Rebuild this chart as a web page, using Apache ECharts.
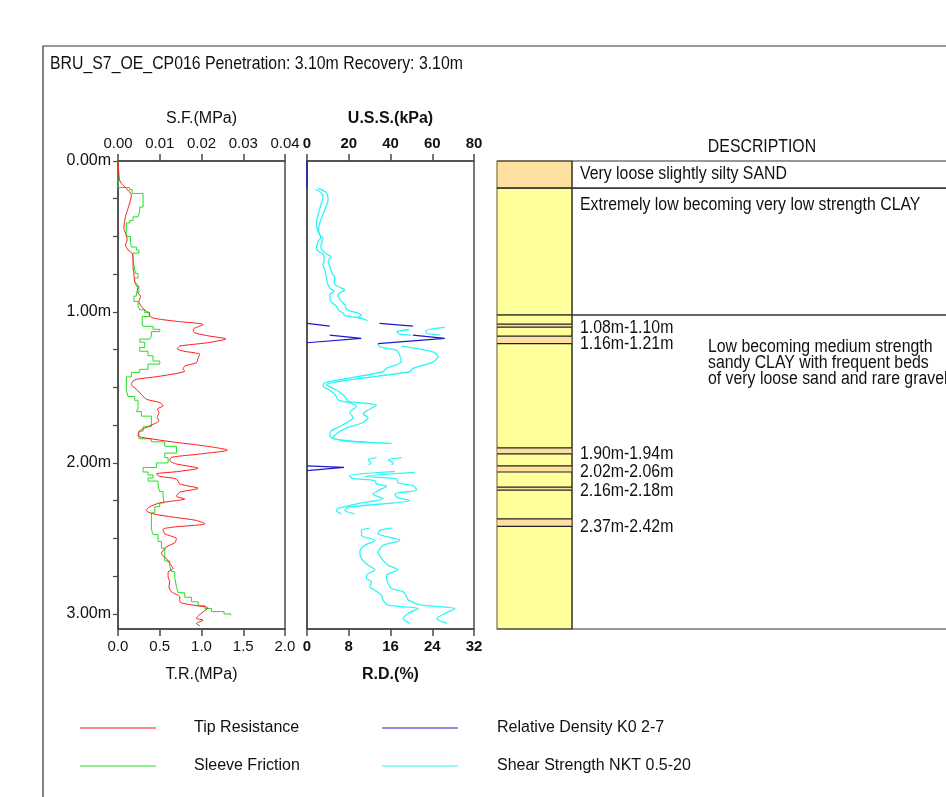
<!DOCTYPE html>
<html><head><meta charset="utf-8">
<script src="https://cdn.jsdelivr.net/npm/echarts@6/dist/echarts.min.js"></script>
<style>html,body{margin:0;padding:0;background:#fff}#c{width:946px;height:797px}</style>
</head><body><div id="c"></div>
<script>
// ---------- DATA ----------
const titleText = 'BRU_S7_OE_CP016 Penetration: 3.10m Recovery: 3.10m';
const descTitle = 'DESCRIPTION';
const depthMax = 3.1;
// Tip resistance [MPa, depth m]
const tipResistance = [[0,0],[0.01,0.08],[0.02,0.127],[0.04,0.149],[0.10,0.182],[0.16,0.226],[0.15,0.259],[0.12,0.314],[0.09,0.369],[0.07,0.446],[0.09,0.479],[0.11,0.523],[0.09,0.556],[0.12,0.589],[0.17,0.611],[0.18,0.655],[0.18,0.699],[0.19,0.743],[0.20,0.798],[0.24,0.831],[0.23,0.864],[0.27,0.897],[0.25,0.930],[0.28,0.963],[0.34,0.996],[0.38,1.007],[0.37,1.018],[0.42,1.040],[0.70,1.062],[1.02,1.084],[0.90,1.116],[0.92,1.138],[1.10,1.160],[1.29,1.178],[1.07,1.204],[0.74,1.226],[0.71,1.244],[0.78,1.259],[0.98,1.281],[0.96,1.303],[0.94,1.336],[0.80,1.358],[0.78,1.380],[0.80,1.391],[0.52,1.424],[0.22,1.446],[0.18,1.457],[0.16,1.480],[0.22,1.512],[0.28,1.545],[0.34,1.578],[0.50,1.600],[0.54,1.622],[0.47,1.644],[0.49,1.666],[0.47,1.699],[0.49,1.721],[0.38,1.754],[0.26,1.787],[0.24,1.820],[0.42,1.842],[0.70,1.864],[1.02,1.886],[1.31,1.915],[0.98,1.941],[0.64,1.963],[0.62,1.985],[0.70,2.007],[0.96,2.035],[0.70,2.058],[0.46,2.073],[0.50,2.089],[0.70,2.106],[0.74,2.139],[0.96,2.168],[0.74,2.194],[0.70,2.221],[0.80,2.238],[0.50,2.265],[0.37,2.293],[0.34,2.315],[0.42,2.337],[0.66,2.359],[0.94,2.381],[1.04,2.403],[0.66,2.425],[0.54,2.440],[0.56,2.469],[0.70,2.502],[0.68,2.528],[0.58,2.557],[0.52,2.601],[0.58,2.634],[0.62,2.667],[0.66,2.700],[0.60,2.722],[0.60,2.755],[0.62,2.788],[0.61,2.821],[0.64,2.854],[0.74,2.887],[0.74,2.920],[0.90,2.942],[1.08,2.960],[1.02,2.986],[0.96,3.013],[0.94,3.030],[1.02,3.041],[0.94,3.063],[0.98,3.079]];
// Sleeve friction [MPa, depth from which the value holds]
const sleeveFriction = [[0,0],[0.0028,0.176],[0.0034,0.19],[0.0060,0.215],[0.0052,0.305],[0.0048,0.33],[0.0036,0.37],[0.0028,0.395],[0.0020,0.41],[0.0022,0.48],[0.0030,0.50],[0.0032,0.54],[0.0044,0.57],[0.0050,0.59],[0.0036,0.61],[0.0040,0.655],[0.0042,0.72],[0.0048,0.745],[0.0040,0.775],[0.0044,0.80],[0.0050,0.83],[0.0044,0.87],[0.0038,0.895],[0.0048,0.93],[0.0052,0.96],[0.0064,0.985],[0.0076,1.005],[0.0058,1.03],[0.0060,1.08],[0.0084,1.095],[0.0100,1.115],[0.0080,1.13],[0.0076,1.16],[0.0052,1.18],[0.0064,1.20],[0.0052,1.235],[0.0072,1.26],[0.0084,1.29],[0.0100,1.325],[0.0072,1.345],[0.0052,1.38],[0.0032,1.40],[0.0020,1.43],[0.0024,1.52],[0.0040,1.56],[0.0048,1.585],[0.0044,1.64],[0.0056,1.66],[0.0080,1.69],[0.0060,1.76],[0.0050,1.79],[0.0080,1.84],[0.0112,1.86],[0.0140,1.89],[0.0112,1.935],[0.0120,1.965],[0.0092,2.00],[0.0060,2.03],[0.0072,2.06],[0.0084,2.08],[0.0072,2.10],[0.0096,2.12],[0.0100,2.155],[0.0108,2.19],[0.0110,2.215],[0.0100,2.265],[0.0088,2.29],[0.0080,2.33],[0.0084,2.44],[0.0096,2.475],[0.0104,2.52],[0.0112,2.565],[0.0124,2.65],[0.0128,2.685],[0.0136,2.72],[0.0140,2.76],[0.0144,2.82],[0.0160,2.86],[0.0176,2.89],[0.0192,2.92],[0.0208,2.945],[0.0224,2.965],[0.0254,2.985],[0.0270,3.00],[0.0270,3.01]];
// Relative density K0 2 / K0 7 [%, depth], segments
const relDensityLow = [
  [[0,0],[0,0.176]],
  [[0,1.076],[4.35,1.094]],
  [[4.35,1.153],[10.4,1.175],[0,1.204]],
  [[0,2.020],[7.1,2.030],[0,2.051]]
];
const relDensityHigh = [
  [[13.9,1.076],[20.3,1.094]],
  [[20.3,1.153],[26.4,1.175],[13.6,1.210]]
];
// Shear strength NKT bounds [kPa, depth], segments
const shearLow = [
  [[4.0,0.187],[6.9,0.211],[7.7,0.237],[6.6,0.292],[5.3,0.358],[4.5,0.402],[5.0,0.457],[6.6,0.506],[5.3,0.534],[4.5,0.578],[5.6,0.600],[7.7,0.615],[8.2,0.655],[7.7,0.688],[8.8,0.732],[9.3,0.776],[9.8,0.809],[10.9,0.842],[13.0,0.864],[10.9,0.886],[11.4,0.930],[14.1,0.963],[14.9,0.985],[17.3,1.007],[18.1,1.025],[23.7,1.036],[26.7,1.045]],
  [[49,1.116],[43,1.132],[44.5,1.147],[50,1.153]],
  [[34.0,1.213],[34.8,1.231],[42.8,1.253],[44.4,1.286],[45.2,1.330],[38.0,1.374],[36.4,1.396],[8.5,1.469],[7.7,1.490],[10.5,1.515],[12.5,1.535],[14.1,1.560],[14.9,1.583],[21.3,1.605],[23.7,1.623],[22.1,1.644],[20.5,1.666],[22.1,1.700],[20.5,1.721],[16.5,1.754],[11.7,1.787],[10.9,1.820],[13.3,1.842],[29.3,1.864]],
  [[33.3,1.965],[29.3,1.979],[30.6,2.001],[29.6,2.014]],
  [[42.1,2.058],[20.5,2.084],[21.6,2.102],[32.5,2.117],[33.3,2.139],[38.1,2.155],[34.1,2.183],[31.7,2.205],[36.6,2.238],[26.1,2.264],[14.9,2.300],[14.1,2.315],[16.5,2.337]],
  [[30.1,2.432],[26.1,2.447],[26.1,2.480],[32.5,2.513],[27.7,2.546],[25.3,2.590],[26.1,2.634],[29.3,2.678],[32.5,2.707],[28.5,2.744],[28.5,2.766],[30.9,2.788],[30.1,2.821],[32.5,2.843],[35.7,2.876],[36.5,2.909],[38.9,2.942],[53.3,2.964],[48.5,2.997],[46.1,3.030],[49.3,3.063]]
];
const shearHigh = [
  [[5.3,0.182],[9.3,0.211],[10.1,0.259],[8.8,0.314],[6.9,0.380],[5.6,0.446],[6.1,0.490],[7.7,0.512],[6.6,0.567],[7.2,0.589],[10.1,0.622],[11.4,0.633],[10.1,0.666],[10.9,0.699],[12.0,0.743],[13.3,0.776],[13.0,0.809],[16.5,0.842],[18.1,0.853],[14.9,0.886],[15.7,0.919],[18.1,0.952],[18.9,0.980],[21.3,0.996],[24.5,1.007],[26.1,1.022],[24.5,1.033],[27.0,1.046],[29.0,1.057]],
  [[66,1.102],[57,1.124],[57,1.140],[63.6,1.153]],
  [[45.2,1.226],[60.4,1.264],[62.8,1.297],[60.4,1.330],[50.8,1.374],[49.2,1.396],[9.3,1.484],[14.1,1.517],[18.1,1.560],[19.7,1.590],[33.3,1.618],[28.5,1.655],[26.9,1.677],[29.3,1.700],[26.9,1.732],[19.7,1.765],[14.9,1.798],[12.5,1.831],[17.3,1.853],[40.5,1.871]],
  [[45.3,1.965],[38.9,1.979],[41.3,2.001],[40.5,2.014]],
  [[51.7,2.062],[27.7,2.089],[42.9,2.106],[43.7,2.133],[50.9,2.150],[52.5,2.179],[42.1,2.205],[42.9,2.227],[49.3,2.249],[19.7,2.293],[18.1,2.315],[22.9,2.337]],
  [[40.5,2.432],[34.9,2.447],[34.1,2.469],[44.5,2.513],[36.5,2.546],[34.1,2.590],[35.7,2.634],[38.9,2.678],[43.7,2.707],[38.1,2.744],[38.1,2.766],[38.9,2.799],[40.5,2.832],[46.1,2.854],[47.7,2.887],[48.5,2.909],[54.9,2.942],[70.9,2.964],[66.1,2.997],[62.1,3.030],[67.0,3.063]]
];
// Lithology
const unitTop  = [0, 0.18, 1.02];
const unitBase = [0.18, 1.02, 3.10];
const unitSoil = ['sand', 'clay', 'clay'];
const unitText = [
  'Very loose slightly silty SAND',
  'Extremely low becoming very low strength CLAY',
  'Low becoming medium strength\nsandy CLAY with frequent beds\nof very loose sand and rare gravel'
];
const bedTop  = [1.08, 1.16, 1.90, 2.02, 2.16, 2.37];
const bedBase = [1.10, 1.21, 1.94, 2.06, 2.18, 2.42];
// Axis ticks [min, max, interval]
const sfTicks = [0, 0.04, 0.01];
const trTicks = [0, 2.0, 0.5];
const ussTicks = [0, 80, 20];
const rdTicks = [0, 32, 8];
const legendLeft = ['Tip Resistance', 'Sleeve Friction'];
const legendRight = ['Relative Density K0 2-7', 'Shear Strength NKT 0.5-20'];

// ---------- STYLE ----------
const FONT = "'Liberation Sans', Arial, sans-serif";
const AX = '#4a4a4a';
const SAND = '#fde0a0', CLAY = '#ffff9c';
const NARROW_SX = 0.88;
const COL_W = 75, BOX_W = 449, TEXT_X = [8, 8, 136], TEXT_DY = [5, 9, 24];

function joinSegs(segs) {
  const out = [];
  segs.forEach((s, i) => { if (i) out.push(['-', '-']); s.forEach(p => out.push(p)); });
  return out;
}
function valueAxis(t, extra) {
  return Object.assign({
    type: 'value', min: t[0], max: t[1], interval: t[2],
    splitLine: { show: false },
    axisLine: { show: true, onZero: false, lineStyle: { color: AX, width: 1.5 } },
    axisTick: { show: true, length: 7, lineStyle: { color: AX, width: 1.5 } },
    nameLocation: 'middle',
    nameTextStyle: { fontFamily: FONT, fontSize: 16, color: '#111' }
  }, extra);
}
const labelStyle = (dec, bold, margin) => ({
  fontFamily: FONT, fontSize: 15, color: '#111', fontWeight: bold ? 'bold' : 'normal', margin: margin,
  formatter: v => v.toFixed(dec)
});
const depthAxis = (gi, show) => ({
  type: 'value', gridIndex: gi, inverse: true, min: 0, max: depthMax, interval: 0.25,
  splitLine: { show: false },
  axisLine: { show: true, lineStyle: { color: AX, width: 1.5 } },
  axisTick: { show: show, length: 5, lineStyle: { color: AX, width: 1.2 } },
  axisLabel: {
    show: show, fontFamily: FONT, fontSize: 16, color: '#111', margin: 7, showMaxLabel: false,
    formatter: v => (Math.abs(v - Math.round(v)) < 1e-9 ? v.toFixed(2) + 'm' : '')
  }
});
const narrowText = (text, x, y, align, vAlign, extra) => ({
  type: 'text', x: x, y: y, scaleX: NARROW_SX,
  style: Object.assign({ text: text, fontFamily: FONT, fontSize: 18, fill: '#111', align: align, verticalAlign: vAlign }, extra || {})
});

function renderUnit(params, api) {
  const i = api.value(2);
  const a = api.coord([0, api.value(0)]), b = api.coord([COL_W, api.value(1)]), r = api.coord([BOX_W, api.value(1)]);
  return {
    type: 'group', children: [
      { type: 'rect', shape: { x: a[0], y: a[1], width: b[0] - a[0], height: b[1] - a[1] }, style: { fill: unitSoil[i] === 'sand' ? SAND : CLAY, stroke: '#7f7444', lineWidth: 1.2 } },
      { type: 'line', shape: { x1: a[0], y1: a[1], x2: r[0], y2: a[1] }, style: { stroke: '#333', lineWidth: 1.2 } },
      { type: 'line', shape: { x1: a[0], y1: b[1], x2: r[0], y2: b[1] }, style: { stroke: '#333', lineWidth: 1.2 } },
      { type: 'line', shape: { x1: b[0], y1: a[1], x2: b[0], y2: b[1] }, style: { stroke: '#333', lineWidth: 1.2 } },
      narrowText(unitText[i], b[0] + TEXT_X[i], a[1] + TEXT_DY[i], 'left', 'top', { lineHeight: 16 })
    ]
  };
}
function renderBed(params, api) {
  const i = params.dataIndex;
  const a = api.coord([0, api.value(0)]), b = api.coord([COL_W, api.value(1)]);
  return {
    type: 'group', children: [
      { type: 'rect', shape: { x: a[0] + 0.6, y: a[1], width: b[0] - a[0] - 1.2, height: b[1] - a[1] }, style: { fill: SAND } },
      { type: 'line', shape: { x1: a[0], y1: a[1], x2: b[0], y2: a[1] }, style: { stroke: '#222', lineWidth: 1.2 } },
      { type: 'line', shape: { x1: a[0], y1: b[1], x2: b[0], y2: b[1] }, style: { stroke: '#222', lineWidth: 1.2 } },
      narrowText(bedTop[i].toFixed(2) + 'm-' + bedBase[i].toFixed(2) + 'm', b[0] + 8, b[1] + 0.5, 'left', 'middle')
    ]
  };
}

const lineSeries = (name, color, width, xi, yi, data, extra) => Object.assign({
  type: 'line', name, xAxisIndex: xi, yAxisIndex: yi, data, showSymbol: false, symbol: 'none',
  lineStyle: { color, width }, itemStyle: { color }, connectNulls: false, animation: false, z: 5
}, extra);

const chart = echarts.init(document.getElementById('c'), null, { renderer: 'canvas' });
chart.setOption({
  backgroundColor: '#fff',
  animation: false,
  graphic: [
    { type: 'rect', x: 43, y: 46, shape: { x: 0, y: 0, width: 960, height: 800 }, style: { fill: 'none', stroke: '#333', lineWidth: 1.2 }, silent: true },
    narrowText(titleText, 50, 64, 'left', 'middle'),
    narrowText(descTitle, 762, 147, 'center', 'middle')
  ],
  grid: [
    { left: 118, top: 161, width: 167, height: 468, show: true, borderColor: AX, borderWidth: 1.5, backgroundColor: 'transparent' },
    { left: 307, top: 161, width: 167, height: 468, show: true, borderColor: AX, borderWidth: 1.5, backgroundColor: 'transparent' },
    { left: 497, top: 161, width: BOX_W, height: 468, show: false }
  ],
  xAxis: [
    valueAxis(sfTicks, { gridIndex: 0, position: 'top', name: 'S.F.(MPa)', nameGap: 34, axisLabel: labelStyle(2, false, 10) }),
    valueAxis(trTicks, { gridIndex: 0, position: 'bottom', name: 'T.R.(MPa)', nameGap: 38, axisLabel: labelStyle(1, false, 10) }),
    valueAxis(ussTicks, { gridIndex: 1, position: 'top', name: 'U.S.S.(kPa)', nameGap: 34, axisLabel: labelStyle(0, true, 10), nameTextStyle: { fontFamily: FONT, fontSize: 16, color: '#111', fontWeight: 'bold' } }),
    valueAxis(rdTicks, { gridIndex: 1, position: 'bottom', name: 'R.D.(%)', nameGap: 38, axisLabel: labelStyle(0, true, 10), nameTextStyle: { fontFamily: FONT, fontSize: 16, color: '#111', fontWeight: 'bold' } }),
    { type: 'value', gridIndex: 2, min: 0, max: BOX_W, show: false }
  ],
  yAxis: [
    depthAxis(0, true),
    depthAxis(1, false),
    { type: 'value', gridIndex: 2, inverse: true, min: 0, max: depthMax, show: false }
  ],
  legend: [
    { data: legendLeft, left: 80, top: 720, padding: 0, orient: 'vertical', itemWidth: 76, itemHeight: 1.2, itemGap: 22, icon: 'rect', selectedMode: false,
      textStyle: { fontFamily: FONT, fontSize: 16, color: '#111', padding: [0, 0, 0, 33] } },
    { data: legendRight, left: 382, top: 720, padding: 0, orient: 'vertical', itemWidth: 76, itemHeight: 1.2, itemGap: 22, icon: 'rect', selectedMode: false,
      textStyle: { fontFamily: FONT, fontSize: 16, color: '#111', padding: [0, 0, 0, 34] } }
  ],
  series: [
    { type: 'custom', name: 'units', xAxisIndex: 4, yAxisIndex: 2, renderItem: renderUnit, data: unitTop.map((t, i) => [t, unitBase[i], i]), silent: true, z: 1, clip: false },
    { type: 'custom', name: 'beds', xAxisIndex: 4, yAxisIndex: 2, renderItem: renderBed, data: bedTop.map((t, i) => [t, bedBase[i]]), silent: true, z: 2, clip: false },
    lineSeries('Sleeve Friction', '#22e022', 1, 0, 0, sleeveFriction, { step: 'start' }),
    lineSeries('Tip Resistance', '#ff1a1a', 1, 1, 0, tipResistance, { smooth: 0.25 }),
    lineSeries('Shear Strength NKT 0.5-20', '#2ef5f5', 1.3, 2, 1, joinSegs(shearLow), { smooth: 0.25 }),
    lineSeries('Shear Strength NKT 0.5-20', '#2ef5f5', 1.3, 2, 1, joinSegs(shearHigh), { smooth: 0.25 }),
    lineSeries('Relative Density K0 2-7', '#1a1acc', 1.2, 3, 1, joinSegs(relDensityLow)),
    lineSeries('Relative Density K0 2-7', '#1a1acc', 1.2, 3, 1, joinSegs(relDensityHigh))
  ]
});
</script></body></html>
